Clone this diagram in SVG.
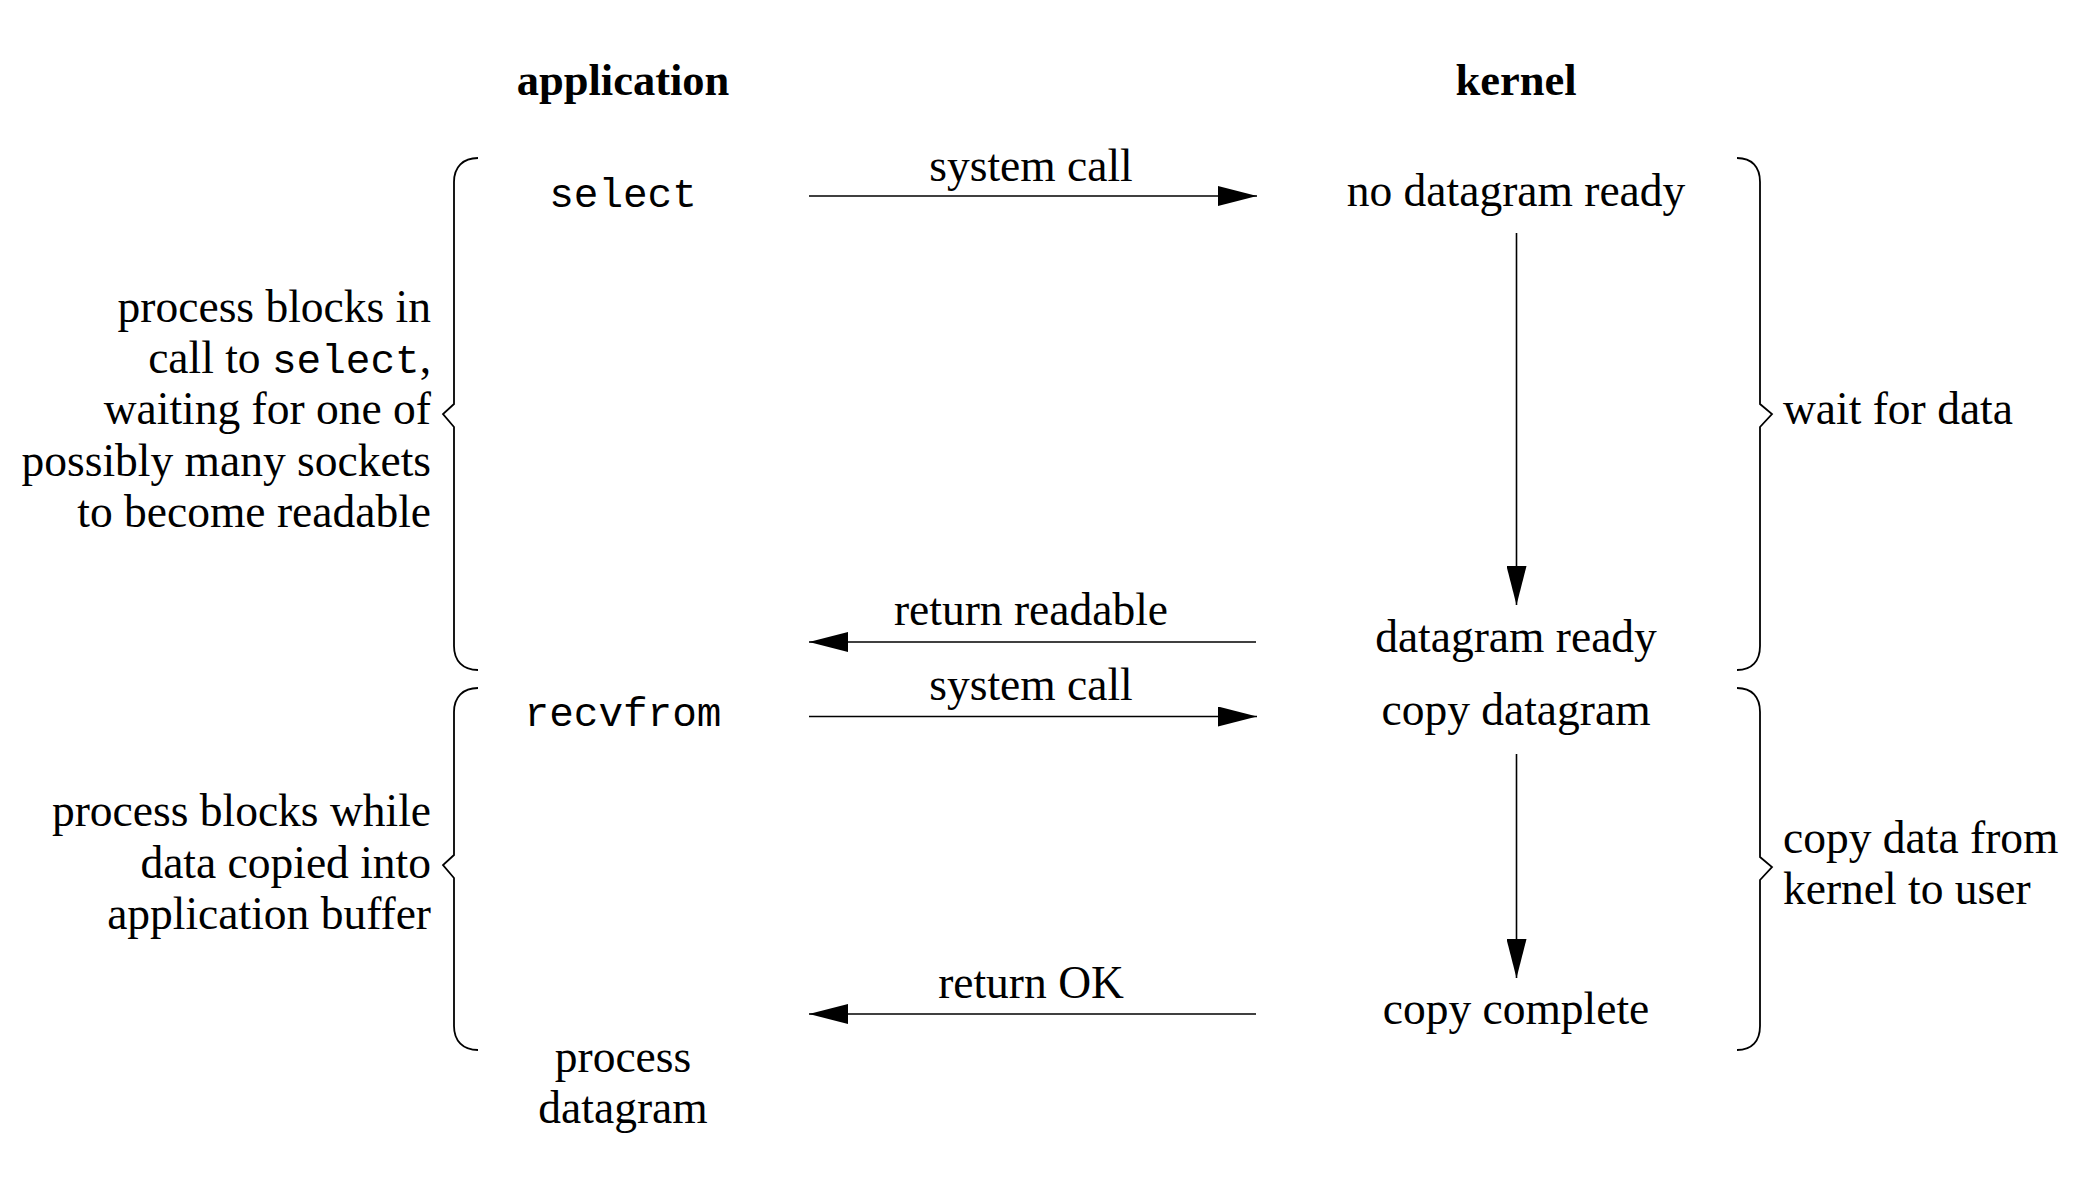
<svg xmlns="http://www.w3.org/2000/svg" width="2100" height="1180" viewBox="0 0 2100 1180">
<defs>
<style>
.t{font-family:"Liberation Serif","Times New Roman",serif;font-size:45.5px;fill:#000}
.b{font-weight:bold;font-size:44.5px}
.m{font-family:"Liberation Mono","Courier New",monospace;font-size:41px;fill:#000}
.c{text-anchor:middle}
.r{text-anchor:end}
.ln{stroke:#000;stroke-width:1.6;fill:none}
.br{stroke:#000;stroke-width:1.8;fill:none;stroke-linejoin:miter}
</style>
<marker id="ah" markerUnits="userSpaceOnUse" markerWidth="40" markerHeight="20" refX="39" refY="10" orient="auto" viewBox="0 0 40 20">
<path d="M0,0 L39,10 L0,20 z" fill="#000"/>
</marker>
</defs>
<rect width="2100" height="1180" fill="#fff"/>

<g id="headers">
<text class="t b c" x="623" y="95">application</text>
<text class="t b c" x="1516" y="95">kernel</text>
</g>

<g id="app-select"><text class="m c" x="623" y="207">select</text></g>
<g id="app-recvfrom"><text class="m c" x="623" y="726">recvfrom</text></g>
<g id="app-process"><text class="t c" x="623" y="1072">process</text><text class="t c" x="623" y="1123">datagram</text></g>

<g id="k-nodata"><text class="t c" x="1516" y="206">no datagram ready</text></g>
<g id="k-ready"><text class="t c" x="1516" y="652">datagram ready</text></g>
<g id="k-copy"><text class="t c" x="1516" y="725">copy datagram</text></g>
<g id="k-complete"><text class="t c" x="1516" y="1024">copy complete</text></g>

<g id="note-select">
<text class="t r" x="431" y="322">process blocks in</text>
<text class="t r" x="431" y="373">call to <tspan class="m">select</tspan>,</text>
<text class="t r" x="431" y="424">waiting for one of</text>
<text class="t r" x="431" y="476">possibly many sockets</text>
<text class="t r" x="431" y="527">to become readable</text>
</g>
<g id="note-recv">
<text class="t r" x="431" y="826">process blocks while</text>
<text class="t r" x="431" y="878">data copied into</text>
<text class="t r" x="431" y="929">application buffer</text>
</g>
<g id="note-wait"><text class="t" x="1783" y="424">wait for data</text></g>
<g id="note-copy">
<text class="t" x="1783" y="853">copy data from</text>
<text class="t" x="1783" y="904">kernel to user</text>
</g>

<g id="braces">
<path class="br" d="M478,158 C463,158 454,167 454,182 L454,404 L443,414 L454,427 L454,646 C454,661 463,670 478,670"/>
<path class="br" d="M478,688 C463,688 454,697 454,712 L454,855 L443,865 L454,878 L454,1026 C454,1041 463,1050 478,1050"/>
<path class="br" d="M1737,158 C1752,158 1760,167 1760,182 L1760,404 L1772,414 L1760,427 L1760,646 C1760,661 1752,670 1737,670"/>
<path class="br" d="M1737,688 C1752,688 1760,697 1760,712 L1760,857 L1772,867 L1760,880 L1760,1026 C1760,1041 1752,1050 1737,1050"/>
</g>

<g id="connectors">
<line class="ln" x1="809" y1="196" x2="1257" y2="196" marker-end="url(#ah)"/>
<text class="t c" x="1031" y="181">system call</text>
<line class="ln" x1="1516.5" y1="233" x2="1516.5" y2="605" marker-end="url(#ah)"/>
<line class="ln" x1="1256" y1="642" x2="809" y2="642" marker-end="url(#ah)"/>
<text class="t c" x="1031" y="625">return readable</text>
<line class="ln" x1="809" y1="716.5" x2="1257" y2="716.5" marker-end="url(#ah)"/>
<text class="t c" x="1031" y="700">system call</text>
<line class="ln" x1="1516.5" y1="754" x2="1516.5" y2="978" marker-end="url(#ah)"/>
<line class="ln" x1="1256" y1="1014" x2="809" y2="1014" marker-end="url(#ah)"/>
<text class="t c" x="1031" y="998">return OK</text>
</g>
</svg>
